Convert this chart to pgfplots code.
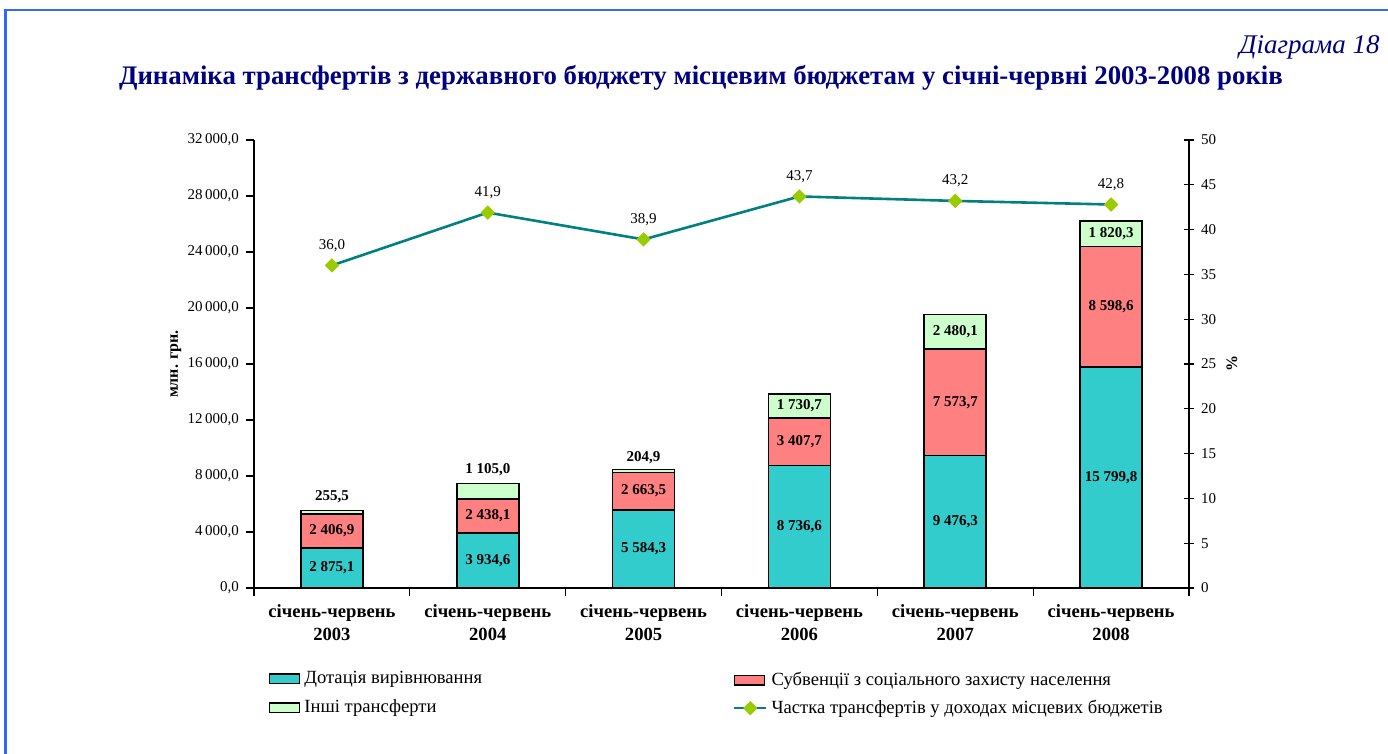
\documentclass[border=0pt]{standalone}
\usepackage{pgfplots}
\pgfplotsset{compat=1.18}
\usepackage{fontspec}
\setmainfont{Liberation Serif}
\definecolor{cdot}{HTML}{33CCCC}
\definecolor{csub}{HTML}{FF8080}
\definecolor{coth}{HTML}{CCFFCC}
\definecolor{cline}{HTML}{008080}
\definecolor{cmark}{HTML}{99CC00}
\definecolor{navy}{HTML}{000080}
\definecolor{cborder}{HTML}{3366FF}
\pgfplotsset{/pgf/number format/assume math mode=true,
  boxlegend/.style={legend image code/.code={\draw[##1] (0pt,-2.4pt) rectangle (15pt,2.4pt);}},
  linelegend/.style={legend image code/.code={\draw[mark repeat=2, mark phase=2, ##1] plot coordinates {(0pt,0pt) (8pt,0pt) (16pt,0pt)};}},
}
\tikzset{vl/.style={font=\fontsize{7.5}{9}\selectfont\bfseries}}
\begin{document}
\begin{tikzpicture}
\path[use as bounding box] (0,0) rectangle (694pt,377pt);
\draw[cborder, line width=1.4pt] (2.6pt,0) -- (2.6pt,372pt) -- (694pt,372pt);
\node[anchor=base east, font=\fontsize{13.5}{15}\selectfont\itshape, text=navy, inner sep=0pt] at (690pt,350pt) {Діаграма 18};
\node[anchor=base, font=\fontsize{13.4}{15}\selectfont\bfseries, text=navy, inner sep=0pt] at (350.5pt,334.5pt) {Динаміка трансфертів з державного бюджету місцевим бюджетам у січні-червні 2003-2008 років};
\begin{axis}[
  scale only axis, width=467.5pt, height=224pt,
  at={(127pt,83pt)}, anchor=south west,
  xmin=-0.5, xmax=5.5, ymin=0, ymax=32000,
  ybar stacked, bar width=31pt,
  axis line style={line width=0.8pt},
  xtick={-0.5,0.5,...,5.5},
  x tick label as interval,
  xticklabels={{січень-червень\\2003},{січень-червень\\2004},{січень-червень\\2005},{січень-червень\\2006},{січень-червень\\2007},{січень-червень\\2008}},
  xticklabel style={align=center, font=\fontsize{9.3}{11.5}\selectfont\bfseries, yshift=-1pt},
  ytick={0,4000,...,32000},
  tick style={black, line width=0.6pt},
  tick align=outside, major tick length=4pt,
  axis y line*=left,
  axis x line*=bottom,
  yticklabel style={font=\fontsize{7.5}{9}\selectfont},
  y tick label style={/pgf/number format/.cd, fixed, fixed zerofill, precision=1, use comma, 1000 sep={\,}},
  scaled y ticks=false,
  ylabel={млн. грн.},
  ylabel style={font=\fontsize{8}{9}\selectfont\bfseries, at={(axis description cs:-0.0835,0.5)}, anchor=center},
  clip=false,
  legend style={at={(axis description cs:0.009,-0.167)}, anchor=north west, draw=none, fill=none, font=\fontsize{9.3}{10}\selectfont, row sep=2.6pt},
  legend cell align=left,
]
\addplot[fill=cdot, draw=black, line width=0.8pt, boxlegend] coordinates {(0,2875.1) (1,3934.6) (2,5584.3) (3,8736.6) (4,9476.3) (5,15799.8)};
\addplot[fill=csub, draw=black, line width=0.8pt, boxlegend] coordinates {(0,2406.9) (1,2438.1) (2,2663.5) (3,3407.7) (4,7573.7) (5,8598.6)};
\addplot[fill=coth, draw=black, line width=0.8pt, boxlegend] coordinates {(0,255.5) (1,1105.0) (2,204.9) (3,1730.7) (4,2480.1) (5,1820.3)};
\legend{Дотація вирівнювання,,Інші трансферти}
\end{axis}
\begin{axis}[
  scale only axis, width=467.5pt, height=224pt,
  at={(127pt,83pt)}, anchor=south west,
  xmin=-0.5, xmax=5.5, ymin=0, ymax=50,
  axis x line=none,
  axis y line*=right,
  axis line style={line width=0.8pt},
  ytick={0,5,...,50},
  tick style={black, line width=0.6pt},
  tick align=center, major tick length=5pt,
  yticklabel style={font=\fontsize{7.5}{9}\selectfont},
  ylabel={\%},
  ylabel style={font=\fontsize{8}{9}\selectfont\bfseries, at={(axis description cs:1.046,0.5)}, anchor=center, rotate=0},
  clip=false,
  legend style={at={(axis description cs:0.5055,-0.169)}, anchor=north west, draw=none, fill=none, font=\fontsize{9.3}{10}\selectfont, row sep=1.8pt},
  legend cell align=left,
]
\addlegendimage{fill=csub, draw=black, line width=0.8pt, boxlegend}
\addlegendentry{Субвенції з соціального захисту населення}
\addplot[color=cline, line width=1.3pt, mark=square*, mark size=1.9pt, mark options={rotate=45, fill=cmark, draw=cmark}, linelegend,
  nodes near coords, point meta=y,
  every node near coord/.append style={font=\fontsize{7.5}{9}\selectfont, text=black, yshift=3pt, /pgf/number format/.cd, fixed, fixed zerofill, precision=1, use comma}]
  coordinates {(0,36.0) (1,41.9) (2,38.9) (3,43.7) (4,43.2) (5,42.8)};
\addlegendentry{Частка трансфертів у доходах місцевих бюджетів}
% bar value labels (left-axis values / 640 to match this axis)
\node[vl] at (axis cs:0,2.2463) {2 875,1};
\node[vl] at (axis cs:0,6.3728) {2 406,9};
\node[vl] at (axis cs:0,10.156) {255,5};
\node[vl] at (axis cs:1,3.0739) {3 934,6};
\node[vl] at (axis cs:1,8.0527) {2 438,1};
\node[vl] at (axis cs:1,13.170) {1 105,0};
\node[vl] at (axis cs:2,4.3628) {5 584,3};
\node[vl] at (axis cs:2,10.806) {2 663,5};
\node[vl] at (axis cs:2,14.509) {204,9};
\node[vl] at (axis cs:3,6.8255) {8 736,6};
\node[vl] at (axis cs:3,16.313) {3 407,7};
\node[vl] at (axis cs:3,20.328) {1 730,7};
\node[vl] at (axis cs:4,7.4034) {9 476,3};
\node[vl] at (axis cs:4,20.724) {7 573,7};
\node[vl] at (axis cs:4,28.578) {2 480,1};
\node[vl] at (axis cs:5,12.344) {15 799,8};
\node[vl] at (axis cs:5,31.405) {8 598,6};
\node[vl] at (axis cs:5,39.545) {1 820,3};
\end{axis}
\end{tikzpicture}
\end{document}
